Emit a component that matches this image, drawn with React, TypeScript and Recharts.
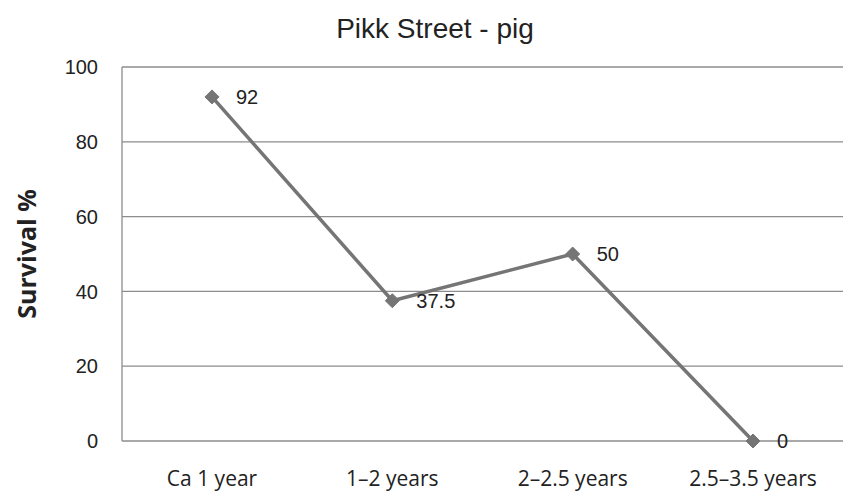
import React from 'react';
import { LineChart, Line, XAxis, YAxis, CartesianGrid, LabelList } from 'recharts';

const CATEGORIES = ['Ca 1 year', '1\u20132 years', '2\u20132.5 years', '2.5\u20133.5 years'];
const SURVIVAL = [92, 37.5, 50, 0];
const Y_TICKS = [0, 20, 40, 60, 80, 100];

const data = CATEGORIES.map((name, i) => ({ name, value: SURVIVAL[i] }));

const Diamond = (props: any) => {
  const { cx, cy } = props;
  if (cx == null || cy == null) return null;
  const r = 7;
  return (
    <polygon
      points={`${cx},${cy - r} ${cx + r},${cy} ${cx},${cy + r} ${cx - r},${cy}`}
      fill="#757575"
      stroke="#757575"
    />
  );
};

const ValueLabel = (props: any) => {
  const { x, y, value } = props;
  return (
    <text x={x + 24} y={y + 2} dominantBaseline="middle" fontSize={20} fill="#222" fontFamily="'Liberation Sans', Arial, sans-serif">
      {value}
    </text>
  );
};

const App: React.FC = () => {
  return (
    <div style={{ position: 'absolute', left: 0, top: 0, width: 844, height: 495, background: '#fff' }}>
      <div
        style={{
          position: 'absolute',
          top: 13,
          left: 0,
          width: 870,
          textAlign: 'center',
          fontFamily: "'Liberation Sans', Arial, sans-serif",
          fontSize: 28,
          color: '#222',
        }}
      >
        Pikk Street - pig
      </div>
      <LineChart width={844} height={495} data={data} margin={{ top: 67, right: 1, bottom: 14, left: 0 }}>
        <CartesianGrid vertical={false} stroke="#8c8c8c" strokeWidth={1.3} />
        <XAxis
          dataKey="name"
          axisLine={false}
          tickLine={false}
          height={40}
          padding={{ left: 90, right: 90 }}
          tick={{ fontSize: 21, fill: '#222', fontFamily: "'Liberation Sans Narrow', 'Open Sans', sans-serif" }}
          tickMargin={24}
          interval={0}
        />
        <YAxis
          domain={[0, 100]}
          ticks={Y_TICKS}
          width={122}
          axisLine={{ stroke: '#8c8c8c', strokeWidth: 1.3 }}
          tickLine={false}
          tickMargin={18}
          tick={{ fontSize: 20, fill: '#222', fontFamily: "'Liberation Sans', Arial, sans-serif" }}
          label={{
            value: 'Survival %',
            angle: -90,
            position: 'insideLeft',
            dx: 22,
            style: { fontSize: 25, fontWeight: 'bold', fill: '#222', textAnchor: 'middle', fontFamily: "'Open Sans', sans-serif" },
          }}
        />
        <Line
          type="linear"
          dataKey="value"
          stroke="#757575"
          strokeWidth={3.5}
          dot={<Diamond />}
          activeDot={false}
          isAnimationActive={false}
        >
          <LabelList dataKey="value" content={<ValueLabel />} />
        </Line>
      </LineChart>
    </div>
  );
};

export default App;
